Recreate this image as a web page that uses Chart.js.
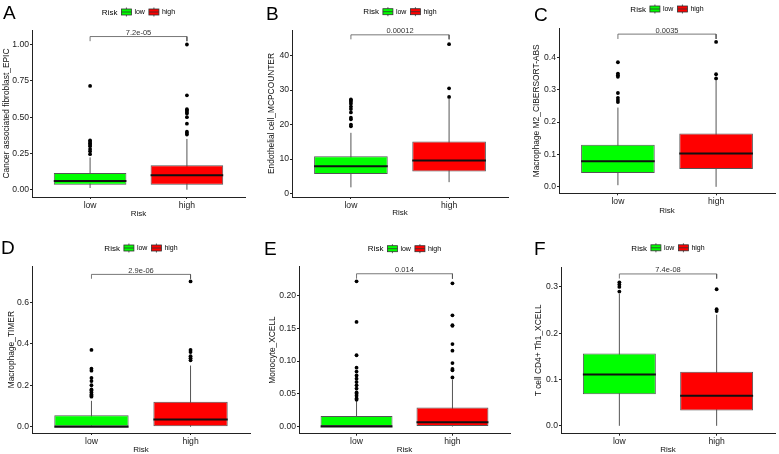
<!DOCTYPE html>
<html>
<head>
<meta charset="utf-8">
<script src="https://cdn.jsdelivr.net/npm/chart.js@4.4.0/dist/chart.umd.min.js"></script>
<style>
  body { margin: 0; width: 779px; height: 454px; overflow: hidden; background: #fff; position: relative;
         font-family: 'Liberation Sans', Arial, Helvetica, sans-serif; }
  .panel { position: absolute; width: 260px; height: 227px; }
  .panel canvas { position: absolute; left: 0; top: 0; }
  .tag { position: absolute; font-size: 19px; line-height: 19px; color: #000; }
</style>
</head>
<body>
<div class="panel" style="left:0px;top:0px"><canvas id="c0" width="260" height="227"></canvas><div class="tag" id="t0"></div></div>
<div class="panel" style="left:260px;top:0px"><canvas id="c1" width="260" height="227"></canvas><div class="tag" id="t1"></div></div>
<div class="panel" style="left:520px;top:0px"><canvas id="c2" width="260" height="227"></canvas><div class="tag" id="t2"></div></div>
<div class="panel" style="left:0px;top:236px"><canvas id="c3" width="260" height="227"></canvas><div class="tag" id="t3"></div></div>
<div class="panel" style="left:260px;top:236px"><canvas id="c4" width="260" height="227"></canvas><div class="tag" id="t4"></div></div>
<div class="panel" style="left:520px;top:236px"><canvas id="c5" width="260" height="227"></canvas><div class="tag" id="t5"></div></div>
<script>
var groups = ['low', 'high'];
var groupColors = ['#00FF00', '#FF0000'];
var legendTitle = 'Risk';
var xTitle = 'Risk';
var panelTags = ['A', 'B', 'C', 'D', 'E', 'F'];
var yTitles = ['Cancer associated fibroblast_EPIC', 'Endothelial cell_MCPCOUNTER', 'Macrophage M2_CIBERSORT-ABS',
               'Macrophage_TIMER', 'Monocyte_XCELL', 'T cell CD4+ Th1_XCELL'];
var pLabels = ['7.2e-05', '0.00012', '0.0035', '2.9e-06', '0.014', '7.4e-08'];

// box stats: [lower whisker, Q1, median, Q3, upper whisker]
var lowBox = [
  [0.012, 0.034, 0.06, 0.115, 0.223],
  [1.8, 5.7, 7.9, 10.8, 17.6],
  [0.005, 0.043, 0.079, 0.13, 0.245],
  [0, 0, 0, 0.055, 0.125],
  [0, 0, 0, 0.016, 0.04],
  [0, 0.068, 0.111, 0.156, 0.285]
];
var highBox = [
  [0, 0.035, 0.10, 0.168, 0.35],
  [3.3, 6.4, 9.6, 15.1, 27.5],
  [0, 0.055, 0.103, 0.165, 0.33],
  [0, 0, 0.035, 0.12, 0.295],
  [0, 0, 0.0066, 0.029, 0.072],
  [0, 0.033, 0.065, 0.117, 0.24]
];
var lowOutliers = [
  [0.245, 0.265, 0.28, 0.30, 0.31, 0.32, 0.33, 0.34, 0.715],
  [19.5, 20, 21.5, 22, 23.5, 24.5, 25.2, 26, 26.5, 27, 27.3],
  [0.262, 0.268, 0.275, 0.29, 0.34, 0.345, 0.35, 0.385],
  [0.145, 0.15, 0.155, 0.165, 0.175, 0.18, 0.2, 0.22, 0.235, 0.27, 0.28, 0.37],
  [0.041, 0.043, 0.047, 0.05, 0.052, 0.058, 0.063, 0.068, 0.073, 0.078, 0.084, 0.09, 0.109, 0.16, 0.222],
  [0.29, 0.30, 0.305, 0.31]
];
var highOutliers = [
  [0.38, 0.39, 0.40, 0.455, 0.50, 0.525, 0.535, 0.545, 0.555, 0.65, 1.00],
  [28, 30.5, 43.3],
  [0.335, 0.348, 0.448],
  [0.32, 0.33, 0.34, 0.36, 0.37, 0.70],
  [0.075, 0.086, 0.088, 0.097, 0.116, 0.126, 0.154, 0.155, 0.17, 0.219],
  [0.248, 0.252, 0.295]
];
var yTicks = [
  [0, 0.25, 0.5, 0.75, 1],
  [0, 10, 20, 30, 40],
  [0, 0.1, 0.2, 0.3, 0.4],
  [0, 0.2, 0.4, 0.6],
  [0, 0.05, 0.1, 0.15, 0.2],
  [0, 0.1, 0.2, 0.3]
];
var yTickLabels = [
  ['0.00', '0.25', '0.50', '0.75', '1.00'],
  ['0', '10', '20', '30', '40'],
  ['0.0', '0.1', '0.2', '0.3', '0.4'],
  ['0.0', '0.2', '0.4', '0.6'],
  ['0.00', '0.05', '0.10', '0.15', '0.20'],
  ['0.0', '0.1', '0.2', '0.3']
];
var yLimits = [[-0.05, 1.10], [-1, 47.4], [-0.02, 0.49], [-0.03, 0.773], [-0.011, 0.245], [-0.017, 0.343]];
// significance bracket: [leg end, top]
var brackets = [[1.023, 1.055], [44.7, 46.0], [0.457, 0.472], [0.713, 0.734], [0.226, 0.2336], [0.318, 0.328]];

var FONT = "'Liberation Sans', Arial, Helvetica, sans-serif";

// pixel placement of each panel inside its 260x227 canvas
var layouts = [
  {plotL: 32, plotR: 245, plotT: 30,   plotB: 197,   yTitleX: 7,  xTitleY: 214,   legendY: 12,   tagX: 3,  tagY: 12},
  {plotL: 32, plotR: 248, plotT: 30,   plotB: 197,   yTitleX: 12, xTitleY: 212.5, legendY: 11.7, tagX: 6,  tagY: 13.5},
  {plotL: 39, plotR: 255, plotT: 28.3, plotB: 193.3, yTitleX: 17, xTitleY: 211,   legendY: 9,    tagX: 14, tagY: 14.5},
  {plotL: 32, plotR: 250, plotT: 30.3, plotB: 197,   yTitleX: 12, xTitleY: 214,   legendY: 12,   tagX: 1,  tagY: 11},
  {plotL: 39, plotR: 250, plotT: 30.3, plotB: 197.7, yTitleX: 13, xTitleY: 213.5, legendY: 12.7, tagX: 4,  tagY: 12},
  {plotL: 41, plotR: 255, plotT: 31,   plotB: 197.7, yTitleX: 19, xTitleY: 213.5, legendY: 11.8, tagX: 14, tagY: 12}
];

var boxExtras = {
  id: 'boxExtras',
  afterDraw: function(chart, args, opts) {
    var ctx = chart.ctx;
    var area = chart.chartArea;
    var xs = chart.scales.x, ys = chart.scales.y;
    ctx.save();

    // p-value label above the bracket
    ctx.font = '7.5px ' + FONT;
    ctx.fillStyle = '#333';
    ctx.textAlign = 'center';
    ctx.textBaseline = 'alphabetic';
    ctx.fillText(opts.pLabel, xs.getPixelForValue(1.5), ys.getPixelForValue(opts.bracketTop) - 1.5);

    // legend: "Risk" + boxplot keys
    ctx.font = '8px ' + FONT;
    var titleW = ctx.measureText(legendTitle).width;
    ctx.font = '7px ' + FONT;
    var labelW = groups.map(function(g) { return ctx.measureText(g).width; });
    var total = titleW + 4;
    labelW.forEach(function(w, i) { total += 10 + 3 + w + (i < labelW.length - 1 ? 4 : 0); });
    var x = (area.left + area.right) / 2 - total / 2;
    var y = opts.legendY;
    ctx.textAlign = 'left';
    ctx.textBaseline = 'middle';
    ctx.fillStyle = '#000';
    ctx.font = '8px ' + FONT;
    ctx.fillText(legendTitle, x, y + 0.5);
    x += titleW + 4;
    groups.forEach(function(g, i) {
      ctx.strokeStyle = '#333';
      ctx.lineWidth = 0.8;
      ctx.beginPath();
      ctx.moveTo(x + 5, y - 4.5);
      ctx.lineTo(x + 5, y + 4.5);
      ctx.stroke();
      ctx.fillStyle = groupColors[i];
      ctx.fillRect(x, y - 3, 10, 6);
      ctx.strokeRect(x, y - 3, 10, 6);
      ctx.beginPath();
      ctx.moveTo(x, y);
      ctx.lineTo(x + 10, y);
      ctx.stroke();
      x += 13;
      ctx.fillStyle = '#000';
      ctx.font = '7px ' + FONT;
      ctx.fillText(g, x, y + 0.5);
      x += labelW[i] + 4;
    });
    ctx.restore();
  }
};

function makeChart(p) {
  var L = layouts[p];
  var datasets = [];
  groups.forEach(function(g, i) {
    var s = i === 0 ? lowBox[p] : highBox[p];
    var outl = i === 0 ? lowOutliers[p] : highOutliers[p];
    var xi = i + 1;
    datasets.push({
      type: 'line', data: [{x: xi, y: s[0]}, {x: xi, y: s[4]}],
      borderColor: '#555', borderWidth: 1, pointRadius: 0, order: 5
    });
    datasets.push({
      type: 'bar', label: g, data: [{x: xi, y: [s[1], s[3]]}],
      backgroundColor: groupColors[i], borderColor: '#555', borderWidth: 1, borderSkipped: false,
      grouped: false, barPercentage: 0.75, categoryPercentage: 1, order: 4
    });
    datasets.push({
      type: 'line', data: [{x: xi - 0.375, y: s[2]}, {x: xi + 0.375, y: s[2]}],
      borderColor: '#111', borderWidth: 2, borderCapStyle: 'butt', pointRadius: 0, order: 3
    });
    datasets.push({
      type: 'scatter', data: outl.map(function(v) { return {x: xi, y: v}; }),
      pointRadius: 1.9, backgroundColor: '#000', borderWidth: 0, order: 2
    });
  });
  var b = brackets[p];
  datasets.push({
    type: 'line', data: [{x: 1, y: b[0]}, {x: 1, y: b[1]}, {x: 2, y: b[1]}, {x: 2, y: b[0]}],
    borderColor: '#555', borderWidth: 0.8, pointRadius: 0, order: 1
  });

  new Chart(document.getElementById('c' + p), {
    type: 'bar',
    data: {datasets: datasets},
    plugins: [boxExtras],
    options: {
      responsive: false,
      animation: false,
      events: [],
      layout: {padding: {top: L.plotT, right: 260 - L.plotR, bottom: 0, left: 0}},
      plugins: {
        legend: {display: false},
        tooltip: {enabled: false},
        boxExtras: {pLabel: pLabels[p], bracketTop: b[1], legendY: L.legendY}
      },
      scales: {
        x: {
          type: 'linear', min: 0.4, max: 2.6, offset: false,
          afterFit: function(s) { s.height = 227 - L.plotB; },
          afterBuildTicks: function(s) { s.ticks = groups.map(function(g, i) { return {value: i + 1}; }); },
          ticks: {
            autoSkip: false, maxRotation: 0, padding: 1, color: '#1a1a1a',
            font: {family: FONT, size: 8.6},
            callback: function(v) { return groups[Math.round(v) - 1]; }
          },
          grid: {offset: false, drawOnChartArea: false, tickLength: 2, tickColor: '#222', tickWidth: 1},
          border: {color: '#222', width: 1},
          title: {display: true, text: xTitle, color: '#111', font: {family: FONT, size: 8},
                  padding: {top: 0, bottom: 227 - L.xTitleY - 4.8}}
        },
        y: {
          type: 'linear', min: yLimits[p][0], max: yLimits[p][1],
          afterFit: function(s) { s.width = L.plotL; },
          afterBuildTicks: function(s) { s.ticks = yTicks[p].map(function(v) { return {value: v}; }); },
          ticks: {
            autoSkip: false, padding: 1, color: '#1a1a1a',
            font: {family: FONT, size: 8.6},
            callback: function(v, i) { return yTickLabels[p][i]; }
          },
          grid: {drawOnChartArea: false, tickLength: 2, tickColor: '#222', tickWidth: 1},
          border: {color: '#222', width: 1},
          title: {display: true, text: yTitles[p], color: '#111', font: {family: FONT, size: 8.4},
                  padding: {top: L.yTitleX - 5, bottom: 0}}
        }
      }
    }
  });

  var tag = document.getElementById('t' + p);
  tag.textContent = panelTags[p];
  tag.style.left = L.tagX + 'px';
  tag.style.top = (L.tagY - 9.3) + 'px';
}

for (var p = 0; p < 6; p++) makeChart(p);
</script>
</body>
</html>
